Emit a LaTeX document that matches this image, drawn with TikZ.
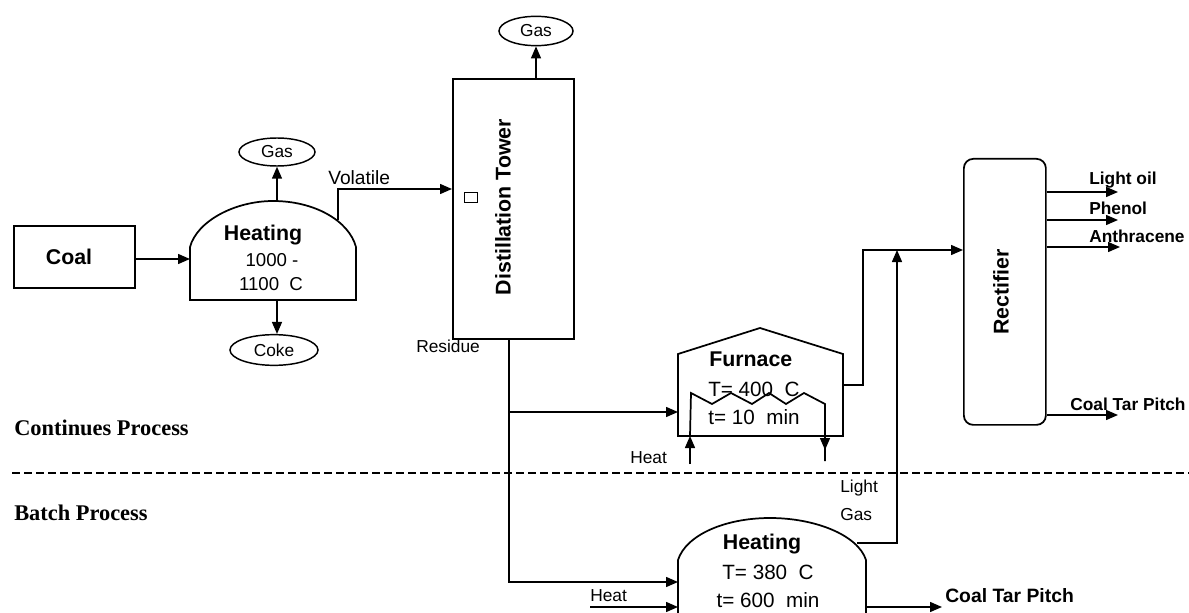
\documentclass[tikz,border=0pt]{standalone}
\usepackage{fontspec}
\setmainfont{Liberation Sans}
\newfontfamily\serifbf{Liberation Serif}
\usetikzlibrary{arrows.meta,shapes.geometric}
\tikzset{
  px/.style={x=0.75pt,y=-0.75pt},
  flow/.style={draw=black,line width=1.1pt,-{Triangle[length=9pt,width=7.5pt]}},
  pipe/.style={draw=black,line width=1.1pt},
  unit/.style={draw=black,line width=1.3pt,fill=white,inner sep=0pt,anchor=north west},
  ell/.style={draw=black,line width=1.1pt,ellipse,inner sep=0pt,fill=white},
  lab/.style={inner sep=0pt,font=\fontsize{13pt}{15pt}\selectfont},
  big/.style={inner sep=0pt,font=\fontsize{16pt}{18pt}\selectfont\bfseries},
  mid/.style={inner sep=0pt,font=\fontsize{15.5pt}{18pt}\selectfont},
  temp/.style={inner sep=0pt,font=\fontsize{14pt}{16pt}\selectfont},
  small/.style={inner sep=0pt,anchor=west,font=\fontsize{13pt}{15pt}\selectfont\bfseries},
  ser/.style={inner sep=0pt,anchor=west,font=\fontsize{16.8pt}{19pt}\serifbf\bfseries},
}
\begin{document}
\begin{tikzpicture}[px]
\useasboundingbox (0,0) rectangle (1189,613);
\clip (0,0) rectangle (1189,613);
% boxes
\node[unit,minimum width=90.75pt,minimum height=46.5pt] (coal) at (13,225) {};
\node[big] at (69,257) {Coal};
\node[unit,minimum width=90.75pt,minimum height=195pt] (tower) at (452,78) {};
\node[big,rotate=90] at (503,207) {Distillation Tower};
\node[unit,rounded corners=7pt,minimum width=61.5pt,minimum height=199.5pt] (rect) at (963,158) {};
\node[big,rotate=90] at (1001,292) {Rectifier};
\draw[line width=.7pt] (464,192) rectangle (477,202);
% dome 1
\draw[line width=1.3pt] (190,300) -- (190,247) .. controls (197,221) and (235,201) .. (273,201) .. controls (315,201) and (349,221) .. (356,247) -- (356,300) -- cycle;
\coordinate (h1top) at (277,201);
\coordinate (h1bot) at (277,300);
\coordinate (h1left) at (190,259);
\coordinate (h1vol) at (338,220);
\node[big] at (263,235) {Heating};
\node[temp] at (272,260) {1000 -};
\node[temp] at (271,284) {1100\ \ C};
\node[ell,minimum width=57pt,minimum height=21pt] (gas1) at (277,152) {};
\node[lab] at (gas1.center) {Gas};
\node[ell,minimum width=66pt,minimum height=23pt] (coke) at (274,350) {};
\node[lab] at (coke.center) {Coke};
\node[ell,minimum width=55.5pt,minimum height=22pt] (gas2) at (536,31) {};
\node[lab] at (gas2.center) {Gas};
% furnace
\draw[line width=1.3pt] (678,436) -- (678,354) -- (760,328) -- (843,354) -- (843,436) -- cycle;
\coordinate (fleft) at (678,412);
\coordinate (fout) at (843,385);
\coordinate (fbot) at (690,436);
\node[big,anchor=west] at (709,359) {Furnace};
\node[mid,anchor=west] at (708,389) {T= 400\ \ C};
\node[mid,anchor=west] at (708,417) {t= 10\ \ min};
% coil
\coordinate (coilend) at (825,461);
\draw[line width=1.3pt] (690,436) -- (691,393) -- (712,404) -- (731,393) -- (752,404) -- (769,393) -- (786,404) -- (804,393) -- (825,404) -- (825,461);
\coordinate (heatfree) at (690,464);
\draw[flow] (heatfree) -- (fbot);
\draw[flow] (825,436) -- (825,450);
% dome 2
\draw[line width=1.3pt] (678,640) -- (678,560) .. controls (686,535) and (725,518) .. (770,518) .. controls (815,518) and (858,535) .. (866,560) -- (866,640);
\coordinate (h2a) at (678,582);
\coordinate (h2b) at (678,607);
\coordinate (h2gas) at (857,543);
\coordinate (h2out) at (866,607);
\node[big] at (762,544) {Heating};
\node[mid] at (768,572) {T= 380\ \ C};
\node[mid] at (768,600) {t= 600\ \ min};
% connectors
\draw[flow] (coal.east |- h1left) -- (h1left);
\draw[flow] (h1top) -- (gas1.south);
\draw[flow] (h1bot) -- (h1bot |- coke.north);
\draw[flow] (h1vol) -- (338,189) -- (tower.west |- 0,189);
\draw[flow] (tower.north -| gas2.south) -- (gas2.south);
\coordinate (resa) at (509,338);
\draw[flow] (resa) -- (509,412) -- (fleft);
\draw[flow] (509,412) -- (509,582) -- (h2a);
\coordinate (heat2) at (590,607);
\draw[flow] (heat2) -- (h2b);
\draw[flow] (fout) -- (863,385) -- (863,250) -- (rect.west |- 0,250);
\draw[pipe] (h2gas) -- (897,543) -- (897,300);
\draw[flow] (897,300) -- (897,250);
\coordinate (o1) at (1118,192);
\coordinate (o2) at (1118,220);
\coordinate (o3) at (1120,247);
\coordinate (o4) at (1118,415);
\coordinate (o5) at (942,607);
\draw[flow] (rect.east |- o1) -- (o1);
\draw[flow] (rect.east |- o2) -- (o2);
\draw[flow] (rect.east |- o3) -- (o3);
\draw[flow] (rect.east |- o4) -- (o4);
\draw[flow] (h2out) -- (o5);
% dashed divider
\coordinate (dl) at (12,473);
\coordinate (dr) at (1189,473);
\draw[line width=.9pt,dash pattern=on 6pt off 3pt] (dl) -- (dr);
% labels
\node[lab,anchor=west,font=\fontsize{14.4pt}{16pt}\selectfont] at (328,178) {Volatile};
\node[lab,anchor=west] at (416,346) {Residue};
\node[lab,anchor=west] at (630,458) {Heat};
\node[lab,anchor=west] at (590,596) {Heat};
\node[lab,anchor=west] at (840,488) {Light};
\node[lab,anchor=west] at (840,515) {Gas};
\node[small] at (1089,180) {Light oil};
\node[small] at (1089,208) {Phenol};
\node[small] at (1089,236) {Anthracene};
\node[small] at (1070,404) {Coal Tar Pitch};
\node[small,font=\fontsize{14.5pt}{16pt}\selectfont\bfseries] at (945,596) {Coal Tar Pitch};
\node[ser] at (14,428) {Continues Process};
\node[ser] at (14,513) {Batch Process};
\end{tikzpicture}
\end{document}
